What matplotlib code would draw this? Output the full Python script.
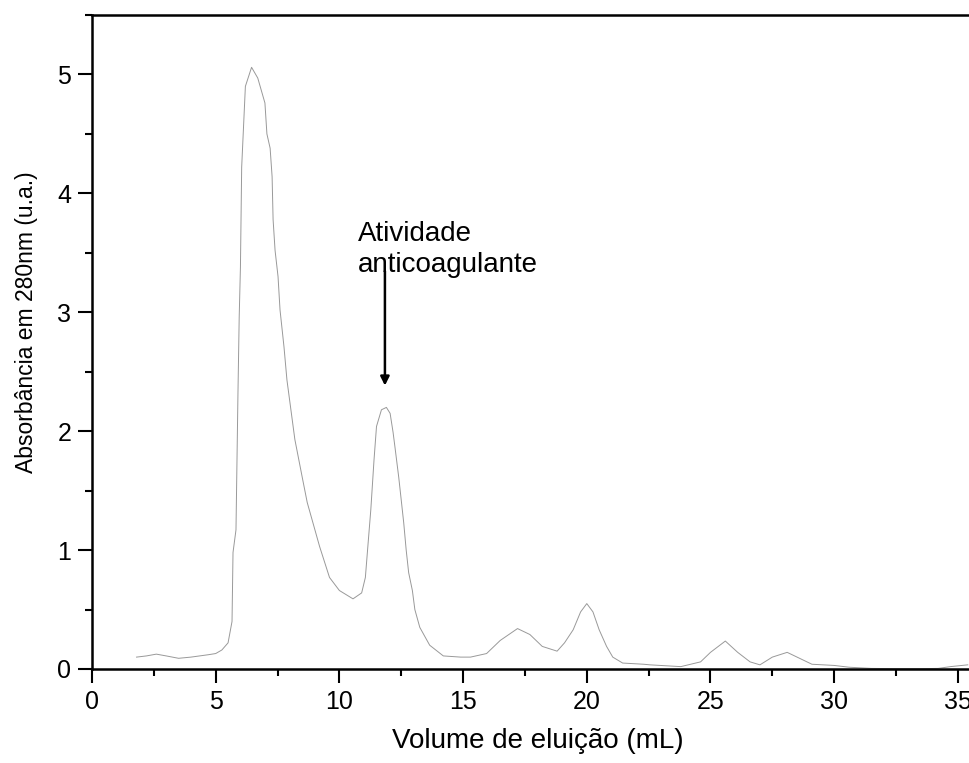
import matplotlib
matplotlib.use("Agg")
import matplotlib.pyplot as plt
from matplotlib.ticker import MultipleLocator

plt.rcParams['font.family'] = ['Liberation Sans', 'DejaVu Sans']

# elution volume (mL) and absorbance at 280 nm
volume = [1.8, 2.2, 2.6, 3.0, 3.5, 4.0, 4.7, 5.0, 5.25, 5.5, 5.66, 5.7, 5.82, 5.9, 5.95,
          6.0, 6.05, 6.2, 6.45, 6.7, 6.99, 7.07, 7.2, 7.28, 7.32, 7.4, 7.52, 7.6, 7.76,
          7.88, 8.2, 8.5, 8.7, 9.2, 9.6, 10.0, 10.55, 10.9, 11.05, 11.15, 11.27, 11.4,
          11.5, 11.7, 11.9, 12.05, 12.17, 12.25, 12.4, 12.5, 12.6, 12.7, 12.8, 12.95,
          13.05, 13.25, 13.65, 14.2, 14.9, 15.3, 15.95, 16.5, 17.2, 17.7, 18.2, 18.8,
          19.1, 19.45, 19.75, 20.0, 20.25, 20.5, 20.8, 21.05, 21.45, 22.3, 22.55, 23.8,
          24.6, 25.0, 25.6, 26.1, 26.6, 27.0, 27.5, 28.1, 28.6, 29.1, 30.0, 30.6, 31.5,
          32.5, 33.5, 34.2, 34.7, 35.4]
absorbance = [0.10, 0.11, 0.125, 0.11, 0.09, 0.10, 0.12, 0.13, 0.16, 0.22, 0.40, 0.98, 1.17,
              2.32, 2.96, 3.38, 4.22, 4.90, 5.06, 4.97, 4.76, 4.50, 4.38, 4.14, 3.78, 3.52,
              3.30, 3.02, 2.71, 2.43, 1.93, 1.61, 1.40, 1.03, 0.77, 0.66, 0.59, 0.64, 0.77,
              1.03, 1.34, 1.76, 2.04, 2.18, 2.2, 2.15, 1.99, 1.86, 1.61, 1.42, 1.23, 1.00,
              0.81, 0.66, 0.50, 0.35, 0.20, 0.11, 0.10, 0.10, 0.13, 0.24, 0.34, 0.29, 0.19,
              0.15, 0.22, 0.33, 0.48, 0.55, 0.48, 0.33, 0.19, 0.10, 0.05, 0.04, 0.035, 0.02,
              0.06, 0.14, 0.235, 0.14, 0.06, 0.035, 0.10, 0.14, 0.09, 0.04, 0.03, 0.015,
              0.005, 0.003, 0.003, 0.005, 0.02, 0.035]

fig = plt.figure(figsize=(9.7, 7.63), dpi=100)
ax = fig.add_axes([92 / 970, 94 / 763, 878 / 970, 654 / 763])

ax.plot(volume, absorbance, color='0.6', lw=0.7)

ax.set_xlim(0, 35.49)
ax.set_ylim(0, 5.5)
ax.xaxis.set_major_locator(MultipleLocator(5))
ax.xaxis.set_minor_locator(MultipleLocator(2.5))
ax.yaxis.set_major_locator(MultipleLocator(1))
ax.yaxis.set_minor_locator(MultipleLocator(0.5))
ax.tick_params(which='major', direction='out', length=10, width=1.5, labelsize=18, pad=5)
ax.tick_params(which='minor', direction='out', length=5, width=1.5)
for s in ['left', 'bottom', 'top']:
    ax.spines[s].set_linewidth(1.8)
ax.spines['right'].set_visible(False)

ax.set_xlabel("Volume de eluição (mL)", fontsize=20)
ax.set_ylabel("Absorbância em 280nm (u.a.)", fontsize=16.5)
ax.xaxis.set_label_coords(0.508, -0.09)
ax.yaxis.set_label_coords(-0.0615, 0.53)

ax.annotate("", xy=(11.84, 2.36), xytext=(11.84, 3.37),
            arrowprops=dict(arrowstyle='-|>', color='black', lw=1.8, mutation_scale=13))
ax.text(10.75, 3.77, "Atividade\nanticoagulante", fontsize=20, ha='left', va='top',
        linespacing=1.25)

fig.savefig("out.png", dpi=100)
